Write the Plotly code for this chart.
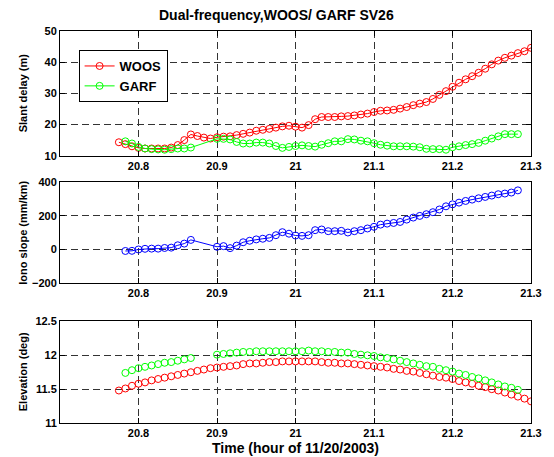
import plotly.graph_objects as go
from plotly.subplots import make_subplots

# ---- data (30-s samples, hours of 11/20/2003) ----
t_woos = [20.7750, 20.7833, 20.7917, 20.8000, 20.8083, 20.8167, 20.8250, 20.8333,
          20.8417, 20.8500, 20.8583, 20.8667, 20.8750, 20.8833, 20.8917, 20.9000,
          20.9083, 20.9167, 20.9250, 20.9333, 20.9417, 20.9500, 20.9583, 20.9667,
          20.9750, 20.9833, 20.9917, 21.0000, 21.0083, 21.0167, 21.0250, 21.0333,
          21.0417, 21.0500, 21.0583, 21.0667, 21.0750, 21.0833, 21.0917, 21.1000,
          21.1083, 21.1167, 21.1250, 21.1333, 21.1417, 21.1500, 21.1583, 21.1667,
          21.1750, 21.1833, 21.1917, 21.2000, 21.2083, 21.2167, 21.2250, 21.2333,
          21.2417, 21.2500, 21.2583, 21.2667, 21.2750, 21.2833, 21.2917, 21.3000]

t_garf = [20.7833, 20.7917, 20.8000, 20.8083, 20.8167, 20.8250, 20.8333, 20.8417,
          20.8500, 20.8583, 20.8667,
          20.9000, 20.9083, 20.9167, 20.9250, 20.9333, 20.9417, 20.9500, 20.9583,
          20.9667, 20.9750, 20.9833, 20.9917, 21.0000, 21.0083, 21.0167, 21.0250,
          21.0333, 21.0417, 21.0500, 21.0583, 21.0667, 21.0750, 21.0833, 21.0917,
          21.1000, 21.1083, 21.1167, 21.1250, 21.1333, 21.1417, 21.1500, 21.1583,
          21.1667, 21.1750, 21.1833, 21.1917, 21.2000, 21.2083, 21.2167, 21.2250,
          21.2333, 21.2417, 21.2500, 21.2583, 21.2667, 21.2750, 21.2833]

slant_woos = [14.3, 13.7, 13.0, 12.5, 12.3, 12.3, 12.3, 12.3, 12.6, 13.4, 15.0, 16.8,
              16.3, 15.8, 15.5, 15.9, 16.1, 16.2, 16.6, 17.0, 17.4, 18.0, 18.3, 18.6,
              19.0, 19.4, 19.6, 19.3, 19.0,
              19.8, 21.7, 22.4, 22.4, 22.4, 22.6, 22.7, 22.9, 23.2, 23.5, 24.0, 24.4,
              24.5, 24.7, 25.1, 25.6, 26.2, 26.7, 27.2, 28.2, 29.5, 30.7, 32.1, 33.4,
              34.5, 35.5, 36.6, 37.9, 39.3, 40.5, 41.4, 42.1, 42.9, 43.5, 44.6]

slant_garf = [14.6, 13.9, 12.8, 12.3, 12.1, 12.0, 11.9, 12.1, 12.3, 12.3, 12.6,
              15.4, 15.4, 15.2, 14.4, 13.9, 13.9, 14.2, 14.2, 13.9, 13.1, 12.5, 12.8,
              13.1, 13.3, 13.1, 12.9, 13.5, 14.0, 14.6, 14.6, 15.3, 15.2, 14.8, 14.6,
              14.0, 13.5, 13.2, 13.0, 13.0, 13.0, 12.9, 12.7, 12.2, 12.1, 12.1, 11.9,
              12.7, 13.0, 13.4, 13.7, 14.1, 14.8, 15.5, 16.2, 16.9, 16.9, 16.9]

iono_slope = [-9, -8, 0, 4, 5, 5, 9, 11, 25, 35, 57,
              16, 20, 8, 23, 43, 52, 60, 64, 69, 85, 103, 94,
              83, 81, 85, 115, 119, 109, 109, 111, 101, 109, 115, 125, 135, 148,
              154, 158, 164, 178, 190, 200, 210, 222, 238, 257, 269, 279, 289, 297,
              305, 313, 321, 329, 333, 339, 352]

elev_woos = [11.48, 11.51, 11.55, 11.58, 11.60, 11.63, 11.65, 11.67, 11.69, 11.71,
             11.73, 11.75, 11.77, 11.79, 11.81, 11.82, 11.83, 11.84, 11.85, 11.87,
             11.88, 11.88, 11.89, 11.90, 11.90, 11.91, 11.91,
             11.91, 11.91, 11.91, 11.91, 11.90, 11.89, 11.89, 11.88, 11.88, 11.87,
             11.86, 11.85, 11.84, 11.83, 11.82, 11.80, 11.79, 11.77, 11.76, 11.74,
             11.72, 11.70, 11.68, 11.67, 11.65, 11.62, 11.60, 11.58, 11.55, 11.53,
             11.50, 11.48, 11.45, 11.42, 11.39, 11.36, 11.32]

elev_garf = [11.74, 11.78, 11.81, 11.83, 11.85, 11.87, 11.89, 11.90, 11.92, 11.94, 11.96,
             12.01, 12.02, 12.03, 12.04, 12.05, 12.05, 12.06, 12.06, 12.06, 12.06, 12.06, 12.06,
             12.06, 12.06, 12.07, 12.06, 12.06, 12.05, 12.05, 12.04, 12.04, 12.02, 12.01,
             12.00, 11.99, 11.97, 11.96, 11.94, 11.92, 11.90, 11.88, 11.86, 11.84, 11.83,
             11.80, 11.78, 11.76, 11.73, 11.71, 11.68, 11.66, 11.63, 11.60, 11.57, 11.54,
             11.52, 11.49]

x_ticks = [20.8, 20.9, 21.0, 21.1, 21.2, 21.3]
x_ticktext = ["20.8", "20.9", "21", "21.1", "21.2", "21.3"]
y1_ticks = [10, 20, 30, 40, 50]
y2_ticks = [-200, 0, 200, 400]
y3_ticks = [11, 11.5, 12, 12.5]
y3_ticktext = ["11", "11.5", "12", "12.5"]

RED, GREEN, BLUE = "#ff0000", "#00ff00", "#0000ff"
FONT = "Liberation Sans, Arial, sans-serif"

fig = make_subplots(rows=3, cols=1, shared_xaxes=False, vertical_spacing=0.0)

mk = lambda c: dict(symbol="circle-open", size=7, color=c, line=dict(width=1, color=c))

fig.add_trace(go.Scatter(x=t_woos, y=slant_woos, mode="lines+markers", name="WOOS",
                         line=dict(color=RED, width=1), marker=mk(RED)), row=1, col=1)
fig.add_trace(go.Scatter(x=t_garf, y=slant_garf, mode="lines+markers", name="GARF",
                         line=dict(color=GREEN, width=1), marker=mk(GREEN)), row=1, col=1)
fig.add_trace(go.Scatter(x=t_garf, y=iono_slope, mode="lines+markers", showlegend=False,
                         line=dict(color=BLUE, width=1), marker=mk(BLUE)), row=2, col=1)
fig.add_trace(go.Scatter(x=t_woos, y=elev_woos, mode="markers", showlegend=False,
                         marker=mk(RED)), row=3, col=1)
fig.add_trace(go.Scatter(x=t_garf, y=elev_garf, mode="markers", showlegend=False,
                         marker=mk(GREEN)), row=3, col=1)

tickfont = dict(family=FONT, size=11, color="black", weight="bold")
common_axis = dict(showline=True, linecolor="black", linewidth=1, mirror="allticks",
                   ticks="inside", ticklen=5, tickcolor="black", showgrid=True,
                   gridcolor="#333333", griddash="7px,4px", gridwidth=1, zeroline=False,
                   tickfont=tickfont)

domains = [(0.682, 1.0), (0.357, 0.614), (0.0, 0.259)]
yspecs = [dict(range=[10, 50], tickvals=y1_ticks),
          dict(range=[-200, 400], tickvals=y2_ticks),
          dict(range=[11, 12.5], tickvals=y3_ticks, ticktext=y3_ticktext)]
for i in range(3):
    xa = "xaxis" if i == 0 else f"xaxis{i+1}"
    ya = "yaxis" if i == 0 else f"yaxis{i+1}"
    fig.layout[xa].update(range=[20.7, 21.3], tickvals=x_ticks, ticktext=x_ticktext,
                          **common_axis)
    fig.layout[ya].update(domain=list(domains[i]), **yspecs[i], **common_axis)

fig.update_layout(
    width=554, height=457,
    margin=dict(l=60, r=13, t=31, b=34),
    paper_bgcolor="white", plot_bgcolor="white",
    font=dict(family=FONT, color="black"),
    showlegend=True,
    legend=dict(x=0.0395, y=0.9515, xanchor="left", yanchor="top",
                bgcolor="white", bordercolor="black", borderwidth=1,
                font=dict(family=FONT, size=13, color="black", weight="bold"),
                tracegroupgap=0, itemwidth=30),
)

ann = dict(xref="paper", yref="paper", showarrow=False)
fig.add_annotation(text="Dual-frequency,WOOS/ GARF SV26", x=(281 - 60) / 481, y=1.0,
                   yshift=16, xanchor="center", yanchor="middle",
                   font=dict(family=FONT, size=14, color="black", weight="bold"), **ann)
fig.add_annotation(text="Time (hour of 11/20/2003)", x=0.5, y=0, yshift=-25,
                   xanchor="center", yanchor="middle",
                   font=dict(family=FONT, size=14, color="black", weight="bold"), **ann)
ytitles = ["Slant delay (m)", "Iono slope (mm/km)", "Elevation (deg)"]
for txt, (d0, d1) in zip(ytitles, domains):
    fig.add_annotation(text=txt, x=0, xshift=-37, y=(d0 + d1) / 2, textangle=-90,
                       xanchor="center", yanchor="middle",
                       font=dict(family=FONT, size=11, color="black", weight="bold"), **ann)

fig.write_html("out.html")
